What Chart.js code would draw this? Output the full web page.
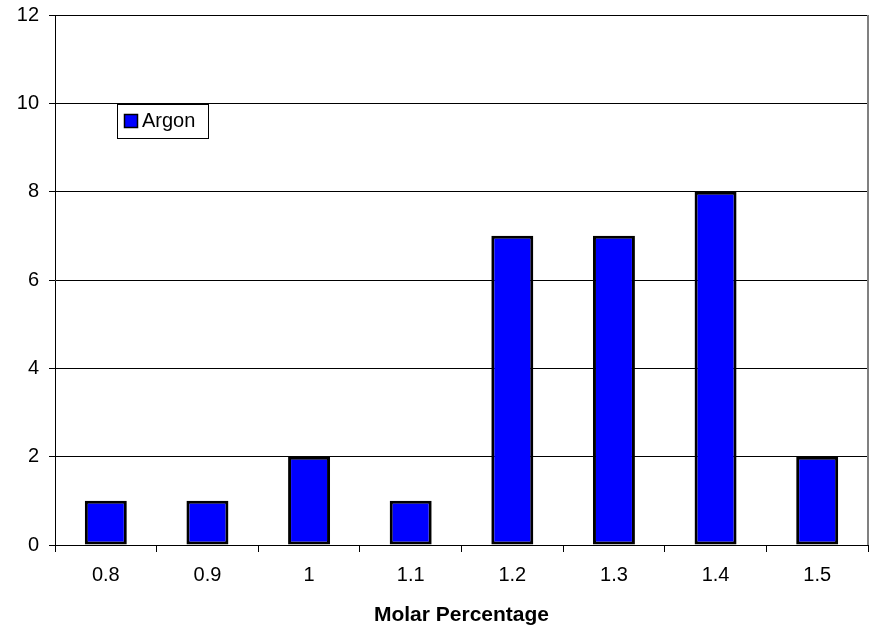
<!DOCTYPE html>
<html>
<head>
<meta charset="utf-8">
<script src="https://cdn.jsdelivr.net/npm/chart.js@4"></script>
<style>
html,body{margin:0;padding:0;background:#fff;}
#wrap{width:878px;height:630px;}
</style>
</head>
<body>
<div id="wrap"><canvas id="c" width="878" height="630"></canvas></div>
<script>
const categories = ['0.8', '0.9', '1', '1.1', '1.2', '1.3', '1.4', '1.5'];
const argonValues = [1, 1, 2, 1, 7, 7, 8, 2];
const seriesName = 'Argon';
const yTicks = [0, 2, 4, 6, 8, 10, 12];
const xTitle = 'Molar Percentage';

const FONT = "'Liberation Sans', Arial, sans-serif";

const boxLegend = {
  id: 'boxLegend',
  afterDraw(chart) {
    const ctx = chart.ctx;
    const ds = chart.data.datasets[0];
    const x = 117, y = 104, w = 91, h = 34;
    ctx.save();
    ctx.fillStyle = '#fff';
    ctx.fillRect(x, y, w, h);
    ctx.strokeStyle = '#000';
    ctx.lineWidth = 1;
    ctx.strokeRect(x + 0.5, y + 0.5, w, h);
    ctx.fillStyle = ds.backgroundColor;
    ctx.fillRect(124, 114, 14, 14);
    ctx.strokeStyle = '#000';
    ctx.lineWidth = 1.5;
    ctx.strokeRect(124.5, 114.5, 13, 13);
    ctx.fillStyle = '#000';
    ctx.font = '20px ' + FONT;
    ctx.textBaseline = 'middle';
    ctx.fillText(ds.label, 142, 121.5);
    ctx.restore();
  }
};

const rightBorder = {
  id: 'rightBorder',
  afterDraw(chart) {
    const a = chart.chartArea;
    const ctx = chart.ctx;
    ctx.save();
    ctx.strokeStyle = '#808080';
    ctx.lineWidth = 2;
    ctx.beginPath();
    ctx.moveTo(a.right, a.top);
    ctx.lineTo(a.right, a.bottom);
    ctx.stroke();
    ctx.restore();
  }
};

new Chart(document.getElementById('c'), {
  type: 'bar',
  data: {
    labels: categories,
    datasets: [{
      label: seriesName,
      data: argonValues,
      backgroundColor: '#0000FF',
      borderColor: '#000000',
      borderWidth: 3,
      borderSkipped: false,
      categoryPercentage: 0.413,
      barPercentage: 1.0
    }]
  },
  options: {
    responsive: false,
    animation: false,
    layout: { padding: { left: 0, right: 10, top: 15, bottom: 0 } },
    plugins: {
      legend: { display: false },
      tooltip: { enabled: false }
    },
    scales: {
      x: {
        offset: true,
        grid: {
          offset: true,
          drawOnChartArea: false,
          color: '#000',
          tickLength: 7,
          tickColor: '#000'
        },
        border: { color: '#000', width: 1 },
        ticks: {
          color: '#000',
          font: { family: FONT, size: 20 },
          padding: 11,
          maxRotation: 0
        },
        title: {
          display: true,
          text: xTitle,
          color: '#000',
          font: { family: FONT, size: 21, weight: 'bold' },
          padding: { top: 10, bottom: 2 }
        },
        afterFit(scale) {
          scale.height = 85;
          scale.paddingLeft = 0;
          scale.paddingRight = 0;
        }
      },
      y: {
        min: 0,
        max: 12,
        afterBuildTicks(scale) { scale.ticks = yTicks.map(v => ({ value: v })); },
        grid: {
          color: '#000',
          lineWidth: 1,
          tickLength: 6,
          tickColor: '#000'
        },
        border: { color: '#000', width: 1 },
        ticks: {
          color: '#000',
          font: { family: FONT, size: 20 },
          padding: 10
        },
        afterFit(scale) {
          scale.width = 55;
          scale.paddingTop = 0;
          scale.paddingBottom = 0;
        }
      }
    }
  },
  plugins: [boxLegend, rightBorder]
});
</script>
</body>
</html>
